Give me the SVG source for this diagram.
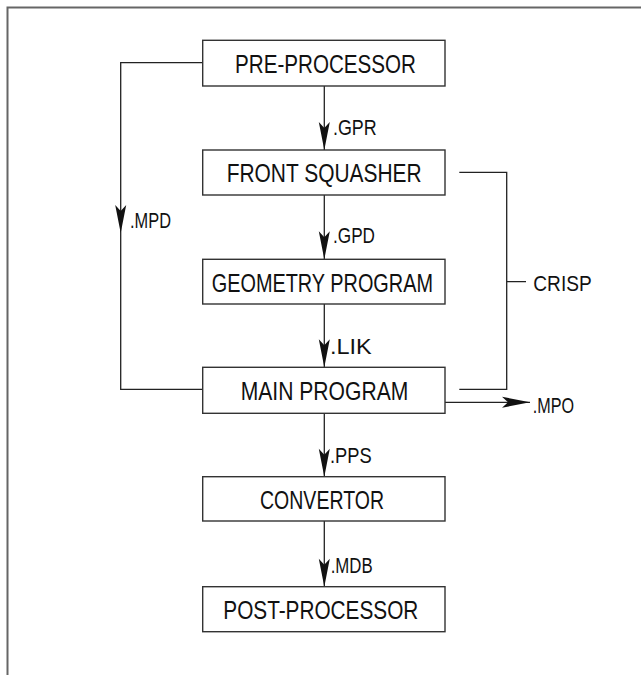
<svg xmlns="http://www.w3.org/2000/svg" width="641" height="675" viewBox="0 0 641 675">
<style>
.box{fill:#fff;stroke:#333;stroke-width:1.4}
.t{font-family:"Liberation Sans",Arial,sans-serif;font-size:25px;fill:#111}
.l{font-family:"Liberation Sans",Arial,sans-serif;font-size:22px;fill:#111}
.c{fill:none;stroke:#222;stroke-width:1.3}
.ah{fill:#111;stroke:none}
</style>
<defs>
<path id="ahd" class="ah" d="M0,0 L-5.5,-28 L0,-22 L5.5,-28 Z"/>
<path id="ahr" class="ah" d="M0,0 L-28,-5.5 L-22,0 L-28,5.5 Z"/>
</defs>
<rect width="641" height="675" fill="#fff"/>
<path d="M7.5,675 V7.5 H641" fill="none" stroke="#666" stroke-width="2"/>
<g id="connectors">
<path class="c" d="M324.3,86 V150"/>
<use href="#ahd" x="324.3" y="150"/>
<path class="c" d="M324.3,195 V259.3"/>
<use href="#ahd" x="324.3" y="259.3"/>
<path class="c" d="M324.3,304 V367.3"/>
<use href="#ahd" x="324.3" y="367.3"/>
<path class="c" d="M324.3,413.3 V476.7"/>
<use href="#ahd" x="324.3" y="476.7"/>
<path class="c" d="M324.3,521 V586.7"/>
<use href="#ahd" x="324.3" y="586.7"/>
<path class="c" d="M202.7,62.7 H120.7 V389.3 H202.7"/>
<use href="#ahd" x="120.7" y="233"/>
<path class="c" d="M459.3,172.3 H506.7 V389.3 H459.3 M506.7,281.7 H526"/>
<path class="c" d="M445,402.3 H530"/>
<use href="#ahr" x="530" y="402.3"/>
<text class="l" x="333" y="135" textLength="43.7" lengthAdjust="spacingAndGlyphs">.GPR</text>
<text class="l" x="333" y="243.3" textLength="42" lengthAdjust="spacingAndGlyphs">.GPD</text>
<text class="l" x="330" y="354" textLength="41.7" lengthAdjust="spacingAndGlyphs">.LIK</text>
<text class="l" x="330" y="463.3" textLength="41.7" lengthAdjust="spacingAndGlyphs">.PPS</text>
<text class="l" x="330.7" y="573.3" textLength="42" lengthAdjust="spacingAndGlyphs">.MDB</text>
<text class="l" x="130" y="228" textLength="41" lengthAdjust="spacingAndGlyphs">.MPD</text>
<text class="l" x="532.7" y="413" textLength="41.3" lengthAdjust="spacingAndGlyphs">.MPO</text>
<text class="l" x="533.3" y="290.7" textLength="58.4" lengthAdjust="spacingAndGlyphs">CRISP</text>
</g>
<g id="pre">
<rect class="box" x="202.7" y="40.3" width="242.3" height="45.7"/>
<text class="t" x="235" y="73.3" textLength="181" lengthAdjust="spacingAndGlyphs">PRE-PROCESSOR</text>
</g>
<g id="front">
<rect class="box" x="202.7" y="150" width="242.3" height="45"/>
<text class="t" x="226.7" y="181.7" textLength="195" lengthAdjust="spacingAndGlyphs">FRONT SQUASHER</text>
</g>
<g id="geometry">
<rect class="box" x="202.7" y="259.3" width="242.3" height="44.7"/>
<text class="t" x="211.7" y="291.7" textLength="221.3" lengthAdjust="spacingAndGlyphs">GEOMETRY PROGRAM</text>
</g>
<g id="main">
<rect class="box" x="202.7" y="367.3" width="242.3" height="46"/>
<text class="t" x="240.7" y="400" textLength="167.6" lengthAdjust="spacingAndGlyphs">MAIN PROGRAM</text>
</g>
<g id="convertor">
<rect class="box" x="202.7" y="476.7" width="242.3" height="44.3"/>
<text class="t" x="260" y="509.3" textLength="124" lengthAdjust="spacingAndGlyphs">CONVERTOR</text>
</g>
<g id="post">
<rect class="box" x="202.7" y="586.7" width="242.3" height="45"/>
<text class="t" x="223.3" y="619" textLength="195" lengthAdjust="spacingAndGlyphs">POST-PROCESSOR</text>
</g>
</svg>
